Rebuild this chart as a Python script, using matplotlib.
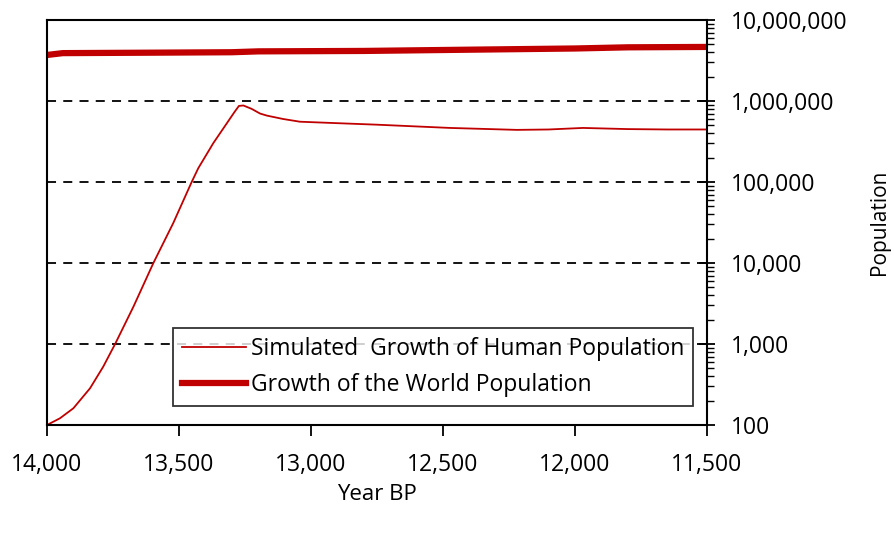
import matplotlib
matplotlib.use("Agg")
import matplotlib.pyplot as plt
from matplotlib.ticker import FixedLocator, LogLocator, NullFormatter

plt.rcParams['font.family'] = ['Open Sans', 'DejaVu Sans']

# Simulated growth of human population
sim_year = [14000, 13951, 13900, 13837, 13787, 13742, 13673, 13597, 13522, 13452,
            13427, 13370, 13319, 13290, 13273, 13256, 13225, 13193, 13167, 13106,
            13042, 12917, 12750, 12473, 12220, 12100, 11970, 11800, 11650, 11500]
sim_pop = [100, 121, 161, 284, 525, 1000, 2870, 10000, 31000, 100000,
           148000, 302000, 530000, 730000, 870000, 880000, 800000, 700000, 660000, 600000,
           555000, 535000, 510000, 465000, 440000, 445000, 465000, 450000, 445000, 445000]

# Growth of the world population
world_year = [14000, 13940, 13600, 13300, 13200, 12800, 12400, 12000, 11800, 11500]
world_pop = [3.7e6, 3.9e6, 3.95e6, 4.0e6, 4.1e6, 4.15e6, 4.3e6, 4.45e6, 4.6e6, 4.65e6]

x_ticks = [14000, 13500, 13000, 12500, 12000, 11500]
y_ticks = [100, 1000, 10000, 100000, 1000000, 10000000]

fig = plt.figure(figsize=(8.94, 5.34), dpi=100)
ax = fig.add_axes([47 / 894, 1 - 425 / 534, 660 / 894, 405 / 534])

red = '#c00000'
ax.plot(sim_year, sim_pop, color=red, lw=1.3, label='Simulated  Growth of Human Population')
ax.plot(world_year, world_pop, color=red, lw=4.5, label='Growth of the World Population')

ax.set_yscale('log')
ax.set_xlim(14000, 11500)
ax.set_ylim(100, 1e7)

for v in y_ticks[1:-1]:
    ax.axhline(v, color='black', lw=1.3, ls=(0, (5, 4)), zorder=0)

ax.yaxis.tick_right()
ax.yaxis.set_label_position('right')
ax.yaxis.set_major_locator(FixedLocator(y_ticks))
ax.set_yticklabels([f'{v:,}' for v in y_ticks])
ax.yaxis.set_minor_locator(LogLocator(base=10, subs=range(2, 10)))
ax.yaxis.set_minor_formatter(NullFormatter())
ax.tick_params(axis='y', which='major', direction='inout', length=12, width=1.3,
               labelsize=16.5, pad=11)
ax.tick_params(axis='y', which='minor', direction='out', length=5, width=1)

ax.set_xticks(x_ticks)
ax.set_xticklabels([f'{v:,}' for v in x_ticks])
ax.tick_params(axis='x', direction='out', length=8, width=1.3, labelsize=16.5, pad=12)

for s in ax.spines.values():
    s.set_linewidth(1.5)

ax.set_xlabel('Year BP', fontsize=16, labelpad=5)
ax.set_ylabel('Population', fontsize=15, labelpad=16)

leg = ax.legend(loc='lower right', bbox_to_anchor=(0.979, 0.047), fontsize=16.5,
                frameon=True, fancybox=False, edgecolor='black', handlelength=2.8,
                handletextpad=0.2, borderpad=0.4, labelspacing=0.5, borderaxespad=0)
leg.get_frame().set_linewidth(1.3)

fig.savefig('out.png', dpi=100)
